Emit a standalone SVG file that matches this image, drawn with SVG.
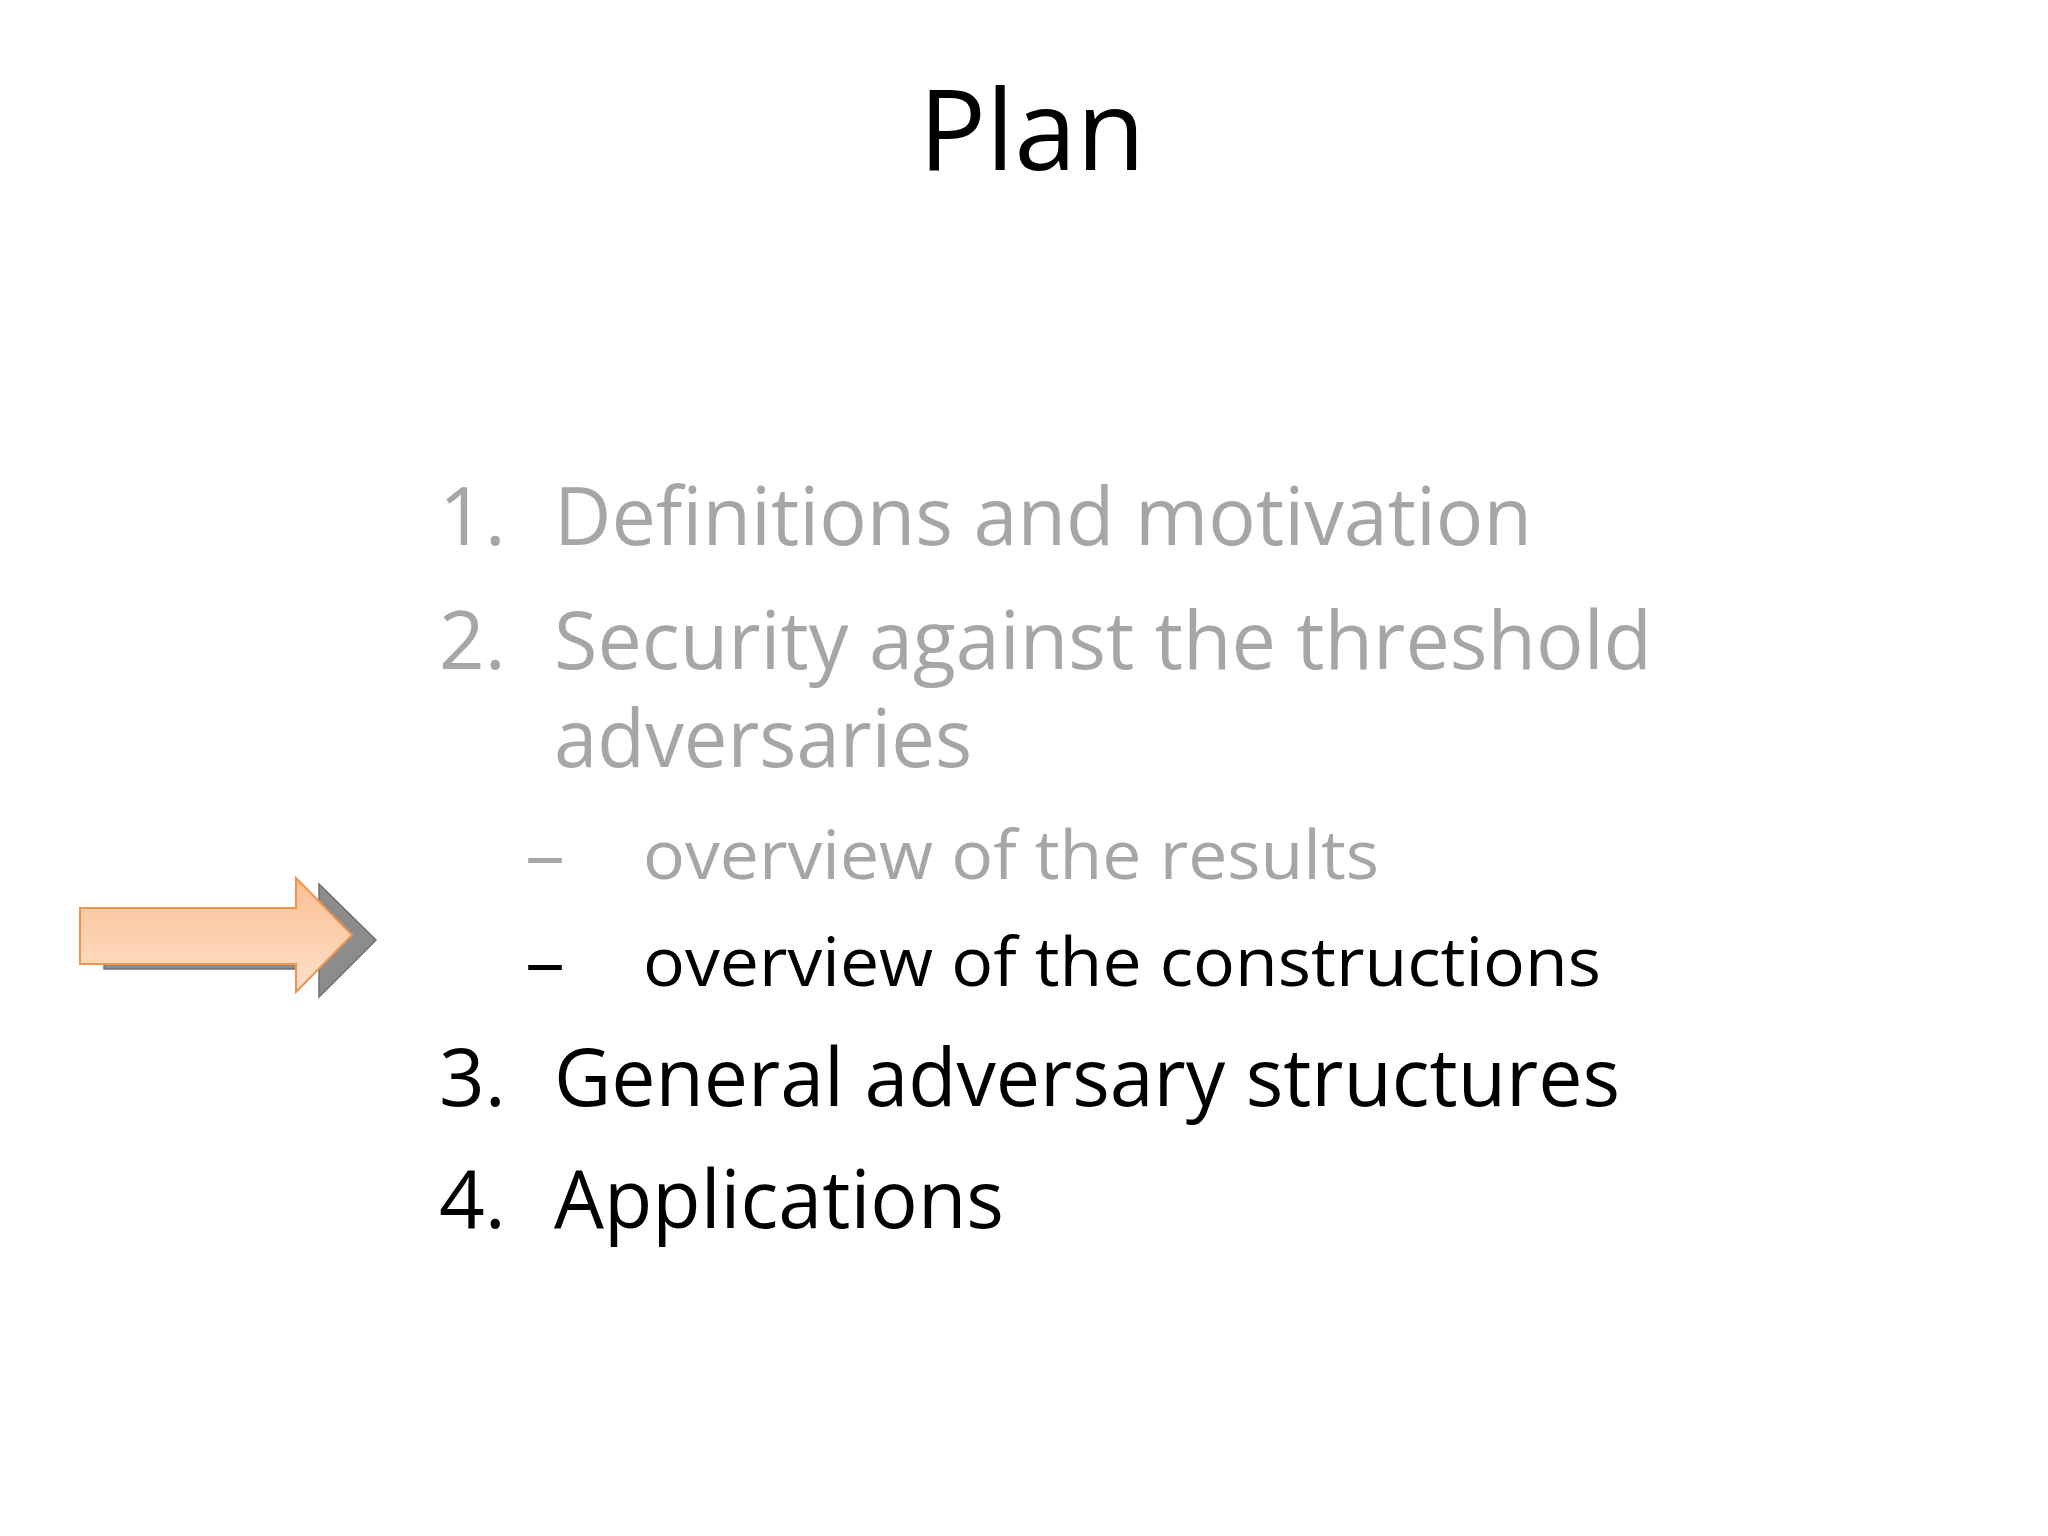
<svg xmlns="http://www.w3.org/2000/svg" width="2048" height="1536" viewBox="0 0 2048 1536">
<style>
text{font-family:"Open Sans","Liberation Sans",sans-serif}
.g{fill:#a6a6a6}.k{fill:#000}
.l1{font-size:80px}.l2{font-size:68px}
</style>
<defs><linearGradient id="og" x1="0" y1="0" x2="0" y2="1"><stop offset="0" stop-color="#fdbf93"/><stop offset="1" stop-color="#fde0cb"/></linearGradient></defs>
<rect width="2048" height="1536" fill="#fff"/>
<text x="1032" y="170" font-size="112" text-anchor="middle" class="k">Plan</text>
<g id="items">
<text x="439" y="545" class="l1 g">1.</text><text x="554" y="545" class="l1 g" textLength="978" lengthAdjust="spacingAndGlyphs">Definitions and motivation</text>
<text x="439" y="669" class="l1 g">2.</text><text x="554" y="669" class="l1 g" textLength="1098" lengthAdjust="spacingAndGlyphs">Security against the threshold</text>
<text x="554" y="767" class="l1 g" textLength="418" lengthAdjust="spacingAndGlyphs">adversaries</text>
<text x="525" y="879" class="l2 g" textLength="40" lengthAdjust="spacingAndGlyphs">–</text><text x="643" y="879" class="l2 g" textLength="736" lengthAdjust="spacingAndGlyphs">overview of the results</text>
<text x="525" y="986" class="l2 k" textLength="40" lengthAdjust="spacingAndGlyphs">–</text><text x="643" y="986" class="l2 k" textLength="958" lengthAdjust="spacingAndGlyphs">overview of the constructions</text>
<text x="439" y="1106" class="l1 k">3.</text><text x="554" y="1106" class="l1 k" textLength="1066" lengthAdjust="spacingAndGlyphs">General adversary structures</text>
<text x="439" y="1228" class="l1 k">4.</text><text x="554" y="1228" class="l1 k" textLength="450" lengthAdjust="spacingAndGlyphs">Applications</text>
</g>
<g id="arrow">
<polygon points="104,913 319,913 319,884 376,940 319,997 319,969 104,969" fill="#8c8c8c" stroke="#6f6f6f" stroke-width="1.5"/>
<polygon points="80,908 296,908 296,878 352,935 296,992 296,964 80,964" fill="url(#og)" stroke="#f0944d" stroke-width="2"/>
</g>
</svg>
